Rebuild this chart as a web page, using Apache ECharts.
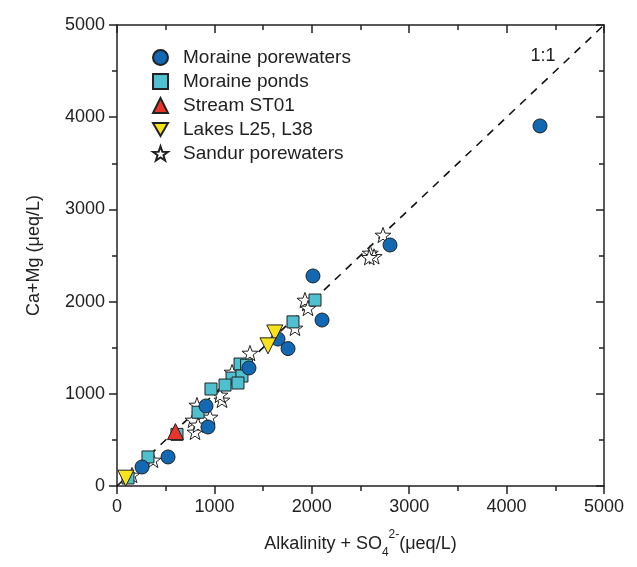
<!DOCTYPE html>
<html>
<head>
<meta charset="utf-8">
<script src="https://cdn.jsdelivr.net/npm/echarts@6/dist/echarts.min.js"></script>
<style>
  html, body { margin: 0; padding: 0; background: #fff; }
  #root { width: 637px; height: 567px; }
</style>
</head>
<body>
<div id="root"></div>
<script>
  // [alkalinity + SO4, Ca + Mg] in ueq/L
  const moraineWaters = [
    [4343, 3905], [2803, 2614], [2012, 2278], [2105, 1800], [1756, 1490],
    [1653, 1594], [1355, 1280], [914, 868], [934, 640], [524, 315], [257, 206]
  ]
  const morainePonds = [
    [2033, 2017], [1807, 1780], [1263, 1323], [1330, 1310], [1181, 1171],
    [1283, 1193], [1242, 1117], [1109, 1095], [965, 1052], [832, 800],
    [318, 315], [113, 87], [616, 560]
  ]
  const streamST01 = [[600, 590]]
  const lakes = [[90, 85], [1620, 1660], [1550, 1520]]
  const sandurWaters = [
    [2731, 2722], [2600, 2527], [2640, 2490], [2590, 2480], [1930, 2017],
    [1961, 1930], [1827, 1714], [1365, 1442], [1181, 1236], [1078, 933],
    [1057, 987], [821, 878], [955, 748], [780, 716], [801, 586], [832, 662],
    [370, 282], [154, 119]
  ]
  const oneToOne = [[0, 0], [5000, 5000]]
  const axisMin = 0
  const axisMax = 5000
  const axisStep = 1000

  const starPath = 'path://M0,-10L2.35,-3.24L9.51,-3.09L3.8,1.24L5.88,8.09L0,4L-5.88,8.09L-3.8,1.24L-9.51,-3.09L-2.35,-3.24Z'
  const downTriPath = 'path://M0,0L10,0L5,8.66Z'
  const font = '"Liberation Sans", Arial, sans-serif'
  const ink = '#222'

  const axisBase = (pos, show) => ({
    type: 'value',
    position: pos,
    min: axisMin,
    max: axisMax,
    interval: axisStep,
    splitLine: { show: false },
    axisLine: { show: true, onZero: false, lineStyle: { color: ink, width: 1.5 } },
    axisTick: { show: true, inside: !show, length: 8, lineStyle: { color: ink, width: 1.5 } },
    minorTick: { show: true, splitNumber: 2, length: 5, lineStyle: { color: ink, width: 1.5 } },
    axisLabel: { show: show, margin: 12, color: ink, fontSize: 18, fontFamily: font, formatter: v => String(v) }
  })

  const marker = (color) => ({ color, borderColor: ink, borderWidth: 1, opacity: 1 })

  const chart = echarts.init(document.getElementById('root'))
  chart.setOption({
    backgroundColor: '#fff',
    animation: false,
    grid: { left: 117, right: 33, top: 25, bottom: 81 },
    xAxis: [
      Object.assign(axisBase('bottom', true), {
        name: '{a|Alkalinity + SO}{sub|4}{sup|2-}{a|(μeq/L)}',
        nameLocation: 'middle',
        nameGap: 43,
        nameTextStyle: {
          rich: {
            a: { fontSize: 18, fontFamily: font, color: ink, lineHeight: 30 },
            sub: { fontSize: 12, fontFamily: font, color: ink, verticalAlign: 'bottom', lineHeight: 30 },
            sup: { fontSize: 12, fontFamily: font, color: ink, verticalAlign: 'top', lineHeight: 30 }
          }
        }
      }),
      axisBase('top', false)
    ],
    yAxis: [
      Object.assign(axisBase('left', true), {
        name: 'Ca+Mg (μeq/L)',
        nameLocation: 'middle',
        nameGap: 74,
        nameTextStyle: { fontSize: 18, fontFamily: font, color: ink }
      }),
      axisBase('right', false)
    ],
    legend: {
      orient: 'vertical',
      left: 147,
      top: 43,
      itemWidth: 15,
      itemHeight: 15,
      itemGap: 5,
      data: [
        { name: 'Moraine porewaters' },
        { name: 'Moraine ponds' },
        { name: 'Stream ST01' },
        { name: 'Lakes L25, L38', icon: downTriPath },
        { name: 'Sandur porewaters' }
      ],
      textStyle: { fontSize: 19, fontFamily: font, color: ink, lineHeight: 19, padding: [0, 0, 0, 10] }
    },
    series: [
      {
        type: 'line',
        data: oneToOne,
        symbol: 'none',
        silent: true,
        z: 1,
        lineStyle: { color: '#111', width: 1.6, type: [8, 7] },
        markPoint: {
          symbol: 'circle',
          symbolSize: 0,
          data: [{ coord: [4374, 4664] }],
          label: { show: true, position: 'inside', formatter: '1:1', fontSize: 18, fontFamily: font, color: ink }
        }
      },
      {
        name: 'Sandur porewaters',
        type: 'scatter',
        data: sandurWaters,
        symbol: starPath,
        symbolKeepAspect: true,
        symbolSize: 16,
        z: 2,
        itemStyle: marker('#fff')
      },
      {
        name: 'Moraine ponds',
        type: 'scatter',
        data: morainePonds,
        symbol: 'rect',
        symbolSize: 12,
        z: 3,
        itemStyle: marker('#4fc0cf')
      },
      {
        name: 'Moraine porewaters',
        type: 'scatter',
        data: moraineWaters,
        symbol: 'circle',
        symbolSize: 14,
        z: 4,
        itemStyle: marker('#1268b3')
      },
      {
        name: 'Stream ST01',
        type: 'scatter',
        data: streamST01,
        symbol: 'triangle',
        symbolSize: 16,
        z: 5,
        itemStyle: marker('#e8342a')
      },
      {
        name: 'Lakes L25, L38',
        type: 'scatter',
        data: lakes,
        symbol: 'triangle',
        symbolRotate: 180,
        symbolSize: 16,
        z: 5,
        itemStyle: marker('#f7e21c')
      }
    ]
  })
</script>
</body>
</html>
